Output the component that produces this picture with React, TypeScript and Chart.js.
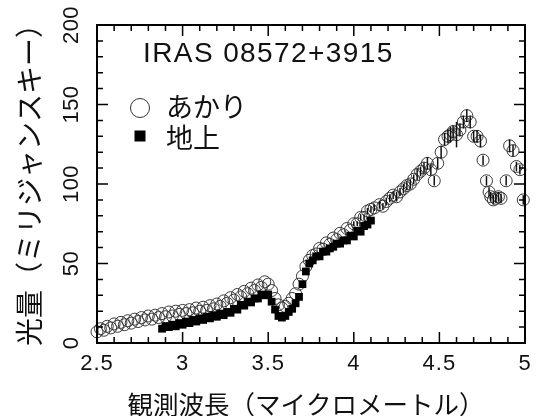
import { useEffect, useRef } from 'react';
import { Chart, registerables } from 'chart.js';

Chart.register(...registerables);

// ---- data ----
const akariWavelength = [
  2.50, 2.52, 2.54, 2.56, 2.58, 2.60, 2.62, 2.64, 2.66, 2.68,
  2.70, 2.72, 2.74, 2.76, 2.78, 2.80, 2.82, 2.84, 2.86, 2.88,
  2.90, 2.92, 2.94, 2.96, 2.98, 3.00, 3.02, 3.04, 3.06, 3.08,
  3.10, 3.12, 3.14, 3.16, 3.18, 3.20, 3.22, 3.24, 3.26, 3.28,
  3.30, 3.32, 3.34, 3.36, 3.38, 3.40, 3.42, 3.44, 3.46, 3.48,
  3.50, 3.52, 3.54, 3.56, 3.58, 3.60, 3.62, 3.64, 3.66, 3.68,
  3.70, 3.72, 3.74, 3.76, 3.78, 3.80, 3.82, 3.84, 3.86, 3.88,
  3.90, 3.92, 3.94, 3.96, 3.98, 4.00, 4.02, 4.04, 4.06, 4.08,
  4.10, 4.12, 4.15, 4.17, 4.19, 4.21, 4.23, 4.25, 4.27, 4.29,
  4.31, 4.33, 4.35, 4.37, 4.39, 4.41, 4.43, 4.45, 4.47, 4.49,
  4.51, 4.53, 4.55, 4.565, 4.58, 4.60, 4.62, 4.64, 4.66, 4.68,
  4.70, 4.72, 4.74, 4.755, 4.775, 4.79, 4.80, 4.815, 4.83, 4.845,
  4.86, 4.89, 4.91, 4.93, 4.95, 4.97, 4.99,
];
const akariFlux = [
  7, 9, 8, 10.5, 9.5, 12, 10.5, 13, 11.5, 14,
  12.5, 15, 13.5, 16, 14.5, 17, 15, 17.5, 16, 18.5,
  16.5, 19.5, 17, 20, 18, 20.5, 18.5, 21, 19, 22,
  20, 22.5, 20.5, 23.5, 21.5, 24.5, 23, 26.5, 25, 28.5,
  27, 30.5, 29, 32.5, 31, 34.5, 33, 36.5, 35, 38.5,
  37, 33, 28, 24, 22, 23, 25, 28, 31, 37,
  42, 48, 52, 55, 56, 59.5, 59, 63, 62, 66,
  65, 69, 68, 72, 71, 75, 75, 79, 79, 83,
  84, 85, 87, 86, 89, 91, 93, 92, 95, 97,
  99, 100, 103, 106, 108, 110, 113, 109, 102, 113,
  120, 128, 130, 131, 133, 131, 134, 139, 143, 139,
  130, 130, 127, 115, 102, 95, 92, 90, 91, 92,
  91, 102, 124, 121, 111, 109, 90,
];
const akariError = [
  0, 0, 0, 0, 0, 0, 0, 0, 0, 0,
  0, 0, 0, 0, 0, 0, 0, 0, 0, 0,
  0, 0, 0, 0, 0, 0, 0, 0, 0, 0,
  0, 0, 0, 0, 0, 0, 0, 0, 0, 0,
  0, 0, 0, 0, 0, 0, 0, 0, 0, 0,
  0, 0, 0, 0, 0, 0, 0, 0, 0, 0,
  0, 0, 0, 0, 0, 0, 0, 0, 0, 0,
  0, 0, 0, 0, 0, 1.5, 1.5, 2, 2, 2,
  2, 2, 2.5, 2, 2.5, 2.5, 2.5, 3, 2.5, 3,
  3, 3, 3, 3.5, 3, 3.5, 4, 3.5, 3, 3.5,
  4, 4, 4.5, 5, 4, 8, 4, 4, 4, 4,
  3.5, 4, 4, 3, 3, 3, 3, 3, 3, 3,
  3, 3, 4, 3.5, 3, 3, 3,
];

const groundWavelength = [
  2.88, 2.90, 2.92, 2.94, 2.96, 2.98, 3.00, 3.02, 3.04, 3.06,
  3.08, 3.10, 3.12, 3.14, 3.16, 3.18, 3.20, 3.22, 3.24, 3.26,
  3.28, 3.30, 3.32, 3.34, 3.36, 3.38, 3.40, 3.42, 3.44, 3.46,
  3.48, 3.50, 3.52, 3.54, 3.56, 3.58, 3.60, 3.62, 3.64, 3.66,
  3.68, 3.70, 3.72, 3.74, 3.76, 3.78, 3.80, 3.82, 3.84, 3.86,
  3.88, 3.90, 3.92, 3.94, 3.96, 3.98, 4.00, 4.02, 4.04, 4.06,
  4.08, 4.10,
];
const groundFlux = [
  9, 10.5, 10, 11.5, 10.5, 12.5, 11.5, 13.5, 12.5, 14.5,
  13.5, 15.5, 14.5, 16.5, 15.5, 17.5, 16.5, 18.5, 17.5, 19.5,
  19, 21.5, 21, 24, 23.5, 26, 25.5, 28, 28, 30.5,
  30, 30.5, 26, 21, 17, 16, 17, 19.5, 21.5, 25,
  29, 37, 45, 50, 52, 54.5, 54.5, 57.5, 57.5, 59.5,
  60.5, 62.5, 62.5, 64.5, 64.5, 67.5, 67, 70.5, 70, 73.5,
  74.5, 77,
];

const xMajorTicks = [2.5, 3, 3.5, 4, 4.5, 5];
const xTickLabels = ['2.5', '3', '3.5', '4', '4.5', '5'];
const yMajorTicks = [0, 50, 100, 150, 200];
const yTickLabels = ['0', '50', '100', '150', '200'];

const objectName = 'IRAS 08572+3915';
const akariLabel = 'あかり';
const groundLabel = '地上';
const xTitle = '観測波長（マイクロメートル）';
const yTitle = '光量（ミリジャンスキー）';

const LATIN = '"Liberation Sans", Arial, sans-serif';
const CJK = '"Noto Sans CJK JP", sans-serif';

const overlayPlugin = {
  id: 'overlay',
  afterDatasetsDraw(chart: any) {
    const ctx = chart.ctx;
    const x = chart.scales.x;
    const y = chart.scales.y;
    ctx.save();
    ctx.strokeStyle = '#111';
    ctx.lineWidth = 1.5;
    for (let i = 0; i < akariFlux.length; i++) {
      const e = akariError[i];
      if (!e) continue;
      const px = x.getPixelForValue(akariWavelength[i]);
      ctx.beginPath();
      ctx.moveTo(px, y.getPixelForValue(akariFlux[i] - e));
      ctx.lineTo(px, y.getPixelForValue(akariFlux[i] + e));
      ctx.stroke();
    }
    ctx.restore();
  },
  afterDraw(chart: any) {
    const ctx = chart.ctx;
    const a = chart.chartArea;
    const x = chart.scales.x;
    const y = chart.scales.y;
    ctx.save();
    ctx.strokeStyle = '#000';
    ctx.fillStyle = '#000';
    // frame
    ctx.lineWidth = 2;
    ctx.strokeRect(a.left, a.top, a.right - a.left, a.bottom - a.top);
    // ticks (inward, all four sides)
    ctx.lineWidth = 1.5;
    const major = 11;
    const minor = 6;
    for (let k = 0; k <= 25; k++) {
      const v = 2.5 + k * 0.1;
      const len = k % 5 === 0 ? major : minor;
      const px = x.getPixelForValue(v);
      ctx.beginPath();
      ctx.moveTo(px, a.bottom);
      ctx.lineTo(px, a.bottom - len);
      ctx.moveTo(px, a.top);
      ctx.lineTo(px, a.top + len);
      ctx.stroke();
    }
    for (let k = 0; k <= 20; k++) {
      const v = k * 10;
      const len = k % 5 === 0 ? major : minor;
      const py = y.getPixelForValue(v);
      ctx.beginPath();
      ctx.moveTo(a.left, py);
      ctx.lineTo(a.left + len, py);
      ctx.moveTo(a.right, py);
      ctx.lineTo(a.right - len, py);
      ctx.stroke();
    }
    // x tick labels
    ctx.fillStyle = '#111';
    ctx.font = `22px ${LATIN}`;
    (ctx as any).letterSpacing = '1px';
    ctx.textAlign = 'center';
    ctx.textBaseline = 'middle';
    xMajorTicks.forEach((v, i) => {
      ctx.fillText(xTickLabels[i], x.getPixelForValue(v), 364);
    });
    // y tick labels (rotated)
    (ctx as any).letterSpacing = '0.5px';
    yMajorTicks.forEach((v, i) => {
      ctx.save();
      ctx.translate(72, y.getPixelForValue(v));
      ctx.rotate(-Math.PI / 2);
      ctx.fillText(yTickLabels[i], 0, 0);
      ctx.restore();
    });
    (ctx as any).letterSpacing = '0px';
    // axis titles
    ctx.font = `25.5px ${CJK}`;
    ctx.fillText(xTitle, 306, 404);
    ctx.save();
    ctx.translate(29, 178);
    ctx.rotate(-Math.PI / 2);
    ctx.font = `28px ${CJK}`;
    ctx.fillText(yTitle, 0, 0);
    ctx.restore();
    // object name
    ctx.textAlign = 'left';
    ctx.textBaseline = 'alphabetic';
    ctx.font = `28px ${LATIN}`;
    (ctx as any).letterSpacing = '1.4px';
    ctx.fillText(objectName, 143, 62);
    (ctx as any).letterSpacing = '0px';
    // legend
    ctx.lineWidth = 1;
    ctx.strokeStyle = '#333';
    ctx.beginPath();
    ctx.arc(140, 108, 9.5, 0, Math.PI * 2);
    ctx.stroke();
    ctx.fillStyle = '#000';
    ctx.fillRect(134.5, 130.5, 11, 11);
    ctx.fillStyle = '#111';
    ctx.textBaseline = 'middle';
    ctx.font = `27px ${CJK}`;
    ctx.fillText(akariLabel, 166, 107);
    ctx.fillText(groundLabel, 166, 138);
    ctx.restore();
  },
};

export default function App() {
  const ref = useRef<HTMLCanvasElement | null>(null);
  useEffect(() => {
    if (!ref.current) return;
    const chart = new Chart(ref.current, {
      type: 'scatter',
      data: {
        datasets: [
          {
            label: groundLabel,
            data: groundWavelength.map((w, i) => ({ x: w, y: groundFlux[i] })),
            pointStyle: 'rect',
            pointRadius: 5.5,
            backgroundColor: '#000',
            borderColor: '#000',
            borderWidth: 0,
            clip: false,
          },
          {
            label: akariLabel,
            data: akariWavelength.map((w, i) => ({ x: w, y: akariFlux[i] })),
            pointStyle: 'circle',
            pointRadius: 6,
            backgroundColor: 'rgba(0,0,0,0)',
            borderColor: '#3a3a3a',
            borderWidth: 1,
            clip: false,
          },
        ],
      },
      options: {
        animation: false,
        responsive: false,
        events: [],
        layout: { padding: { left: 0, top: 25, right: 15, bottom: 0 } },
        plugins: { legend: { display: false }, tooltip: { enabled: false } },
        scales: {
          x: {
            type: 'linear',
            min: 2.5,
            max: 5,
            ticks: { display: false },
            grid: { display: false },
            border: { display: false },
            afterFit: (s: any) => { s.height = 73; },
          },
          y: {
            type: 'linear',
            min: 0,
            max: 200,
            ticks: { display: false },
            grid: { display: false },
            border: { display: false },
            afterFit: (s: any) => { s.width = 97; },
          },
        },
      },
      plugins: [overlayPlugin],
    });
    return () => chart.destroy();
  }, []);
  return (
    <div style={{ position: 'fixed', left: 0, top: 0, width: 540, height: 416, background: '#fff' }}>
      <canvas ref={ref} width={540} height={416} style={{ display: 'block' }} />
    </div>
  );
}
